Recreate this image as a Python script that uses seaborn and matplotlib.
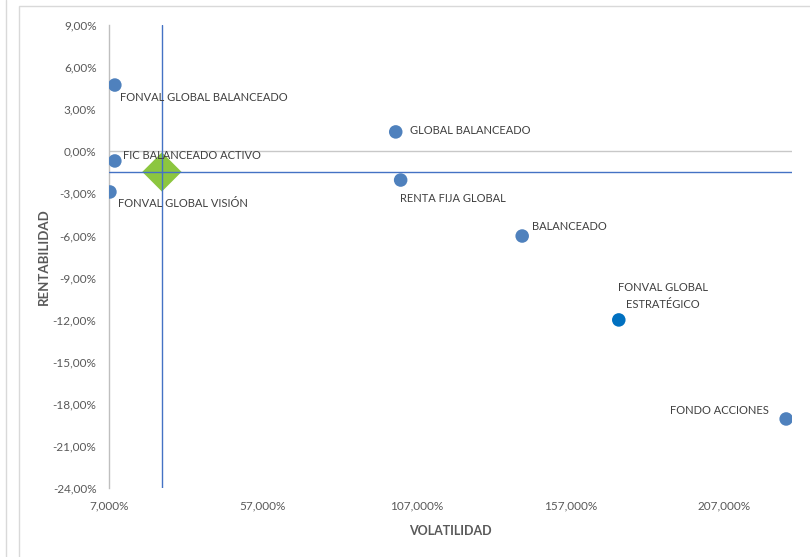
import matplotlib
matplotlib.use('Agg')
import matplotlib.pyplot as plt
import seaborn as sns
import pandas as pd
from matplotlib.patches import Rectangle
from matplotlib.lines import Line2D

# datos (en %)
fondos = ['FONVAL GLOBAL BALANCEADO', 'FIC BALANCEADO ACTIVO', 'FONVAL GLOBAL VISIÓN',
          'GLOBAL BALANCEADO', 'RENTA FIJA GLOBAL', 'BALANCEADO',
          'FONVAL GLOBAL\nESTRATÉGICO', 'FONDO ACCIONES']
volatilidad = [8.9, 8.9, 7.3, 100.2, 101.8, 141.3, 172.7, 227.1]
rentabilidad = [4.72, -0.69, -2.90, 1.38, -2.05, -6.04, -12.02, -19.08]

# punto de referencia (promedio)
ref_vol = [24.2]
ref_rent = [-1.47]

x_ticks = [7, 57, 107, 157, 207]
y_ticks = [9, 6, 3, 0, -3, -6, -9, -12, -15, -18, -21, -24]

# desplazamiento de etiquetas (px) y alineación
offsets = [(5, -12, 'left'), (8, 5, 'left'), (8, -12, 'left'), (14, 1, 'left'),
           (-1, -18, 'left'), (10, 10, 'left'), (44, 24, 'center'), (-17, 8, 'right')]

sns.set_style('white')
plt.rcParams['font.family'] = ['Lato', 'DejaVu Sans']

df = pd.DataFrame({'fondo': fondos, 'vol': volatilidad, 'rent': rentabilidad})
ref = pd.DataFrame({'vol': ref_vol, 'rent': ref_rent})

fig = plt.figure(figsize=(8.10, 5.57), dpi=100)
# marcos grises del área del gráfico
fig.add_artist(Line2D([6 / 810, 6 / 810], [0, 1], color='#d9d9d9', lw=1))
fig.add_artist(Rectangle((19 / 810, -0.1), 1.2, 1 - 6 / 557 + 0.1, fill=False,
                         edgecolor='#d9d9d9', lw=1))

ax = fig.add_axes([109 / 810, 1 - 488 / 557, (792 - 109) / 810, (488 - 25) / 557])

colores = ['#4f81bd'] * len(fondos)
colores[6] = '#0070c0'
sns.scatterplot(data=df, x='vol', y='rent', ax=ax, s=95, color='#4f81bd',
                edgecolor='none', zorder=3, legend=False)
ax.collections[-1].set_facecolor(colores)

sns.scatterplot(data=ref, x='vol', y='rent', ax=ax, marker='D', s=400,
                color='#8cc63f', edgecolor='none', zorder=2, legend=False)
ax.axvline(ref_vol[0], color='#4472c4', lw=1, zorder=4)
ax.axhline(ref_rent[0], color='#4472c4', lw=1, zorder=4)
ax.axhline(0, color='#c8c8c8', lw=1, zorder=1)

for i, nombre in enumerate(fondos):
    dx, dy, ha = offsets[i]
    ax.annotate(nombre, (volatilidad[i], rentabilidad[i]), xytext=(dx * 0.72, dy * 0.72),
                textcoords='offset points', ha=ha, va='center', fontsize=8,
                color='#404040', multialignment='center', linespacing=1.6, zorder=5)

ax.set_xlim(7, 229)
ax.set_ylim(-24, 9)
ax.set_xticks(x_ticks)
ax.set_yticks(y_ticks)
ax.set_xticklabels([f'{v:.3f}%'.replace('.', ',') for v in x_ticks])
ax.set_yticklabels([f'{v:.2f}%'.replace('.', ',') for v in y_ticks])
ax.tick_params(length=0, labelsize=8.5, colors='#595959', pad=9)
ax.tick_params(axis='x', pad=9)

for s in ['top', 'right', 'bottom']:
    ax.spines[s].set_visible(False)
ax.spines['left'].set_color('#bfbfbf')
ax.spines['left'].set_linewidth(1)

ax.set_xlabel('VOLATILIDAD', fontsize=9, fontweight='bold', color='#595959', labelpad=10)
ax.set_ylabel('RENTABILIDAD', fontsize=9.5, fontweight='bold', color='#595959', labelpad=2)

fig.savefig('out.png', dpi=100)
